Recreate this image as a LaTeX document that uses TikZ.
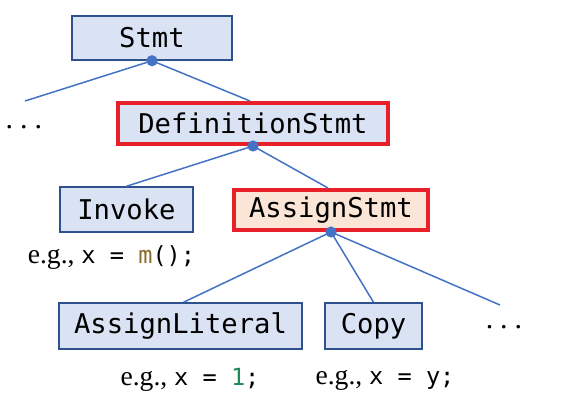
\documentclass[tikz,border=0pt]{standalone}
\usepackage{fontspec}
\setmainfont{Liberation Serif}
\setmonofont{DejaVu Sans Mono}
\usepackage{xcolor}
\definecolor{boxfill}{HTML}{DAE3F3}
\definecolor{boxline}{HTML}{2F528F}
\definecolor{edgeblue}{HTML}{4472C4}
\definecolor{hired}{HTML}{E8202A}
\definecolor{peach}{HTML}{FBE5D6}
\definecolor{mbrown}{HTML}{8B6A2E}
\definecolor{onegreen}{HTML}{1E8A5A}
\tikzset{
  tnode/.style={draw=boxline, fill=boxfill, line width=0.75pt, inner sep=0pt,
    font=\fontsize{13.6}{16}\ttfamily},
  hinode/.style={tnode, draw=hired, line width=2pt},
  edge/.style={draw=edgeblue, line width=0.75pt},
  dotc/.style={fill=edgeblue},
  ex/.style={font=\fontsize{13.8}{16}\selectfont, inner sep=0pt},
  ell/.style={font=\fontsize{15}{16}\selectfont, inner sep=0pt},
}
\newcommand{\exmono}[1]{{\fontsize{11.8}{14}\ttfamily #1}}
\begin{document}
\begin{tikzpicture}[x=0.5pt,y=-0.5pt]
\useasboundingbox (0,0) rectangle (573,405);
\node[tnode, minimum width=80pt, minimum height=22pt] (stmt) at (152,38) {Stmt};
\node[hinode, minimum width=135pt, minimum height=20.5pt] (def) at (253,123.5) {DefinitionStmt};
\node[tnode, minimum width=66.5pt, minimum height=22.5pt] (invoke) at (126.5,209.5) {Invoke};
\node[hinode, fill=peach, minimum width=97pt, minimum height=20pt] (assign) at (331,210) {AssignStmt};
\node[tnode, minimum width=121.5pt, minimum height=23pt] (alit) at (180.5,326) {AssignLiteral};
\node[tnode, minimum width=48.5pt, minimum height=23pt] (copy) at (373.5,326) {Copy};

\coordinate (lfree) at (25,101);
\coordinate (rfree) at (500,305);
\node[ell] (dotsl) at (24,127) {.\hspace{3.5pt}.\hspace{3.5pt}.};
\node[ell] (dotsr) at (504,327) {.\hspace{3.5pt}.\hspace{3.5pt}.};

\draw[edge] (stmt.south) -- (lfree);
\draw[edge] (stmt.south) -- ([xshift=-1.5pt]def.north);
\draw[edge] (def.south) -- (invoke.north);
\draw[edge] (def.south) -- ([xshift=-1.5pt]assign.north);
\draw[edge] (assign.south) -- ([xshift=1.5pt]alit.north);
\draw[edge] (assign.south) -- (copy.north);
\draw[edge] (assign.south) -- (rfree);

\fill[dotc] (stmt.south) circle (2.8pt);
\fill[dotc] (def.south) circle (2.8pt);
\fill[dotc] (assign.south) circle (2.8pt);

\node[ex] (ex1) at (111.5,258) {e.g., \exmono{x = \textcolor{mbrown}{m}();}};
\node[ex] (ex2) at (190,380) {e.g., \exmono{x = \textcolor{onegreen}{1};}};
\node[ex] (ex3) at (385,380) {e.g., \exmono{x = y;}};
\end{tikzpicture}
\end{document}
